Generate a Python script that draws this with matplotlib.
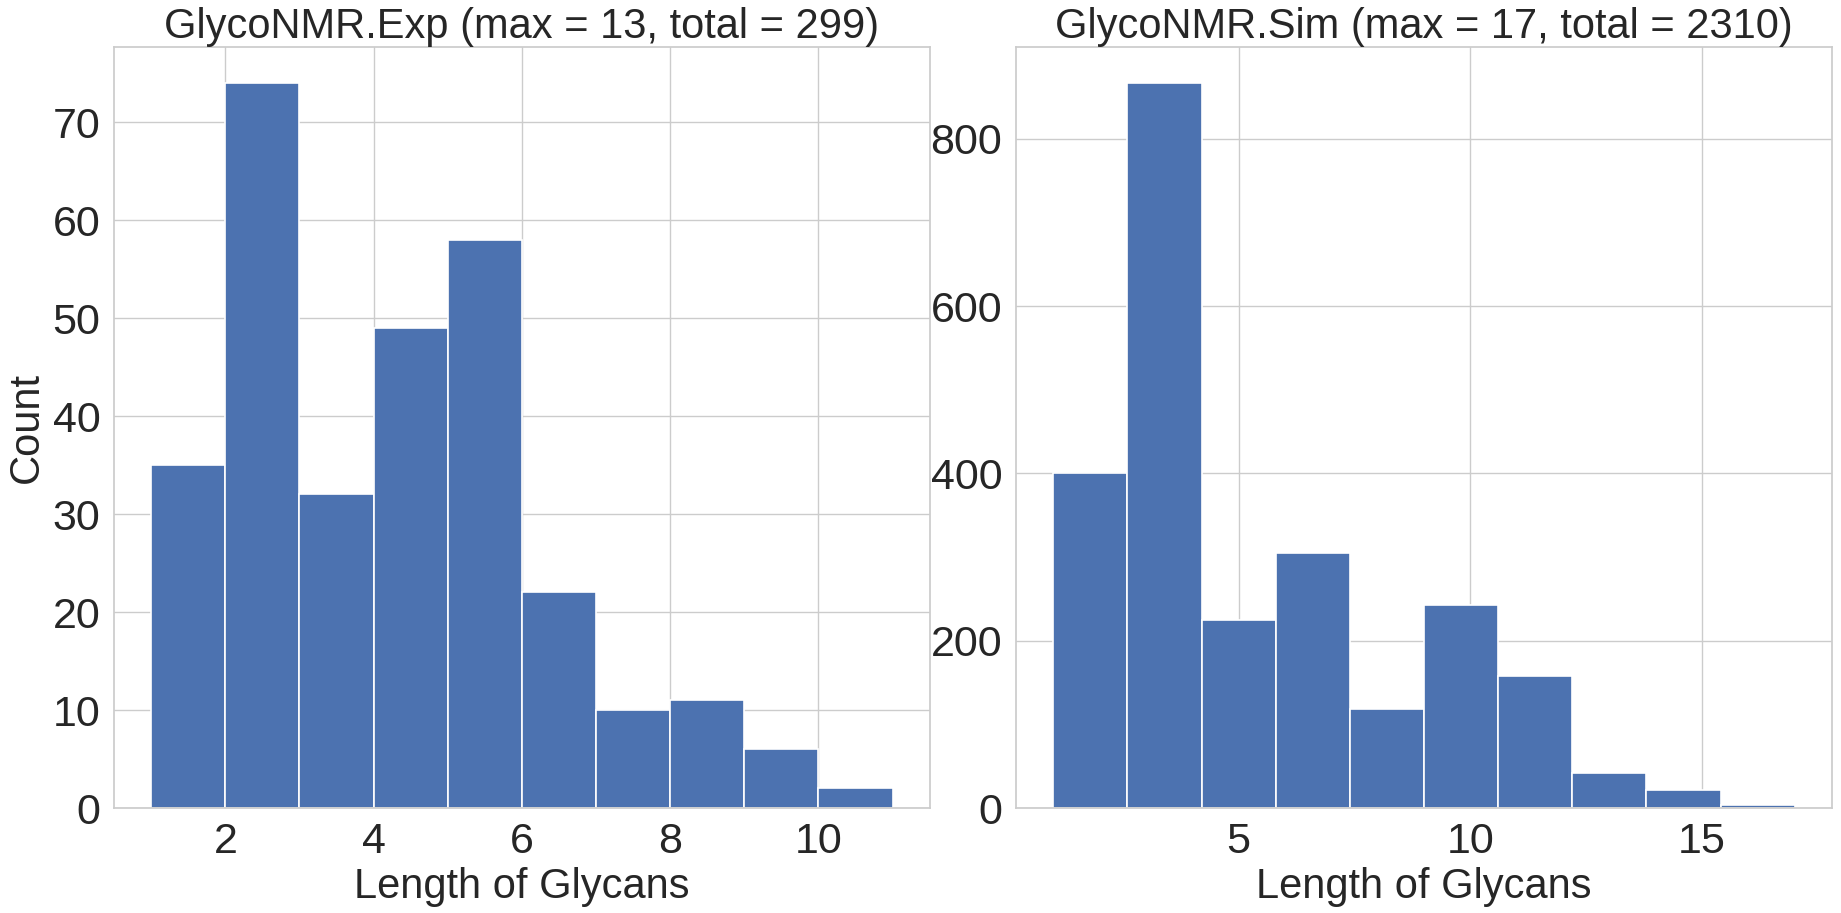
import numpy as np
import matplotlib
matplotlib.use("Agg")
import matplotlib.pyplot as plt
import seaborn as sns

# histogram counts (10 bins each)
exp_edges = [1, 2, 3, 4, 5, 6, 7, 8, 9, 10, 11]
exp_counts = [35, 74, 32, 49, 58, 22, 10, 11, 6, 2]

sim_edges = [1.0, 2.6, 4.2, 5.8, 7.4, 9.0, 10.6, 12.2, 13.8, 15.4, 17.0]
sim_counts = [401, 867, 225, 305, 118, 243, 158, 42, 22, 3]

titles = ["GlycoNMR.Exp (max = 13, total = 299)",
          "GlycoNMR.Sim (max = 17, total = 2310)"]
xlabel = "Length of Glycans"
ylabel = "Count"

sns.set_style("whitegrid")
plt.rcParams['font.family'] = ['Liberation Sans', 'DejaVu Sans']

fig = plt.figure(figsize=(18.41, 9.13), dpi=100)
ax1 = fig.add_axes([0.062, 0.115, 0.443, 0.834])
ax2 = fig.add_axes([0.552, 0.115, 0.443, 0.834])

color = "#4C72B0"
for ax, edges, counts, title in [(ax1, exp_edges, exp_counts, titles[0]),
                                 (ax2, sim_edges, sim_counts, titles[1])]:
    edges = np.array(edges)
    ax.hist(edges[:-1], bins=edges, weights=counts, color=color,
            edgecolor="white", linewidth=1.2)
    ax.set_title(title, fontsize=30, pad=6)
    ax.set_xlabel(xlabel, fontsize=30)
    ax.tick_params(axis="both", labelsize=31, length=0, pad=10)
    for sp in ax.spines.values():
        sp.set_color("#cccccc")
        sp.set_linewidth(1.25)
    ax.grid(True, color="#cccccc", linewidth=1.0)

ax1.set_ylabel(ylabel, fontsize=30)
ax1.set_yticks([0, 10, 20, 30, 40, 50, 60, 70])
ax2.set_yticks([0, 200, 400, 600, 800])
ax2.set_xticks([5, 10, 15])

fig.savefig("out.png", dpi=100)
